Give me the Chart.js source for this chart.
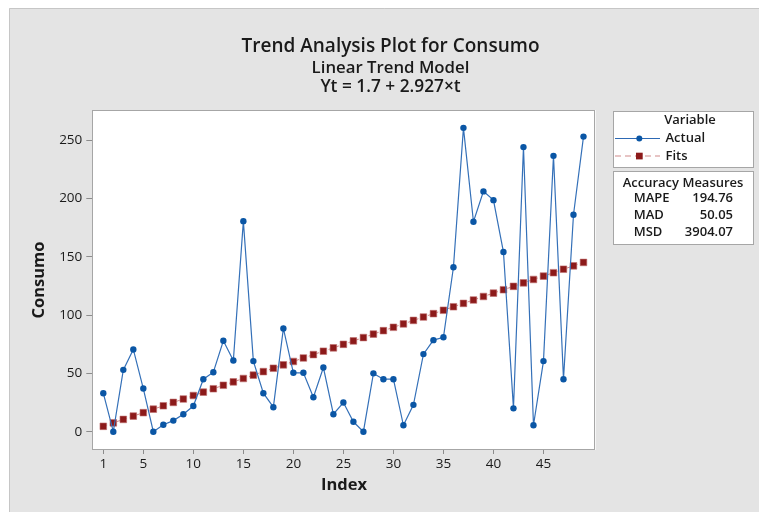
<!DOCTYPE html>
<html>
<head>
<meta charset="utf-8">
<script src="https://cdn.jsdelivr.net/npm/chart.js@4/dist/chart.umd.min.js"></script>
<style>
  html, body { margin: 0; padding: 0; background: #ffffff; }
  #wrap { position: absolute; left: 0; top: 0; width: 759px; height: 512px; }
</style>
</head>
<body>
<div id="wrap"><canvas id="c" width="759" height="512"></canvas></div>
<script>
// ---- data ----
const indexValues = [1,2,3,4,5,6,7,8,9,10,11,12,13,14,15,16,17,18,19,20,21,22,23,24,25,26,27,28,29,30,31,32,33,34,35,36,37,38,39,40,41,42,43,44,45,46,47,48,49];
const actualValues = [33,0,53,70.5,37,0,6,9.5,15,22,45,51,78,61,180.5,60.5,33,21,88.5,50.5,50.5,29.5,55,15,25,8.5,0,50,45,45,5.5,23,66.5,78.5,81,141,260.5,180,206,198.5,154,20,244,5.5,60.5,236.5,45,186,253];
const fitsValues = [4.6,7.6,10.5,13.4,16.3,19.3,22.2,25.1,28.0,31.0,33.9,36.8,39.8,42.7,45.6,48.5,51.5,54.4,57.3,60.2,63.2,66.1,69.0,71.9,74.9,77.8,80.7,83.7,86.6,89.5,92.4,95.4,98.3,101.2,104.1,107.1,110.0,112.9,115.9,118.8,121.7,124.6,127.6,130.5,133.4,136.3,139.3,142.2,145.1];
const xTickValues = [1,5,10,15,20,25,30,35,40,45];
const yTickValues = [0,50,100,150,200,250];
const titleLines = ["Trend Analysis Plot for Consumo", "Linear Trend Model", "Yt = 1.7 + 2.927\u00d7t"];
const seriesNames = ["Actual", "Fits"];
const accuracyLabels = ["MAPE", "MAD", "MSD"];
const accuracyValues = ["194.76", "50.05", "3904.07"];

const FONT = "'Open Sans', 'Noto Sans', sans-serif";
const TXT = '#1a1a1a';

const decor = {
  id: 'decor',
  beforeDraw(chart) {
    const ctx = chart.ctx;
    ctx.save();
    ctx.fillStyle = '#ffffff';
    ctx.fillRect(0, 0, 759, 512);
    ctx.fillStyle = '#e4e4e4';
    ctx.fillRect(9, 8, 750, 504);
    ctx.strokeStyle = '#c6c6c6';
    ctx.lineWidth = 1;
    ctx.beginPath();
    ctx.moveTo(9.5, 512); ctx.lineTo(9.5, 8.5); ctx.lineTo(759, 8.5);
    ctx.stroke();
    const a = chart.chartArea;
    ctx.fillStyle = '#ffffff';
    ctx.fillRect(a.left, a.top, a.right - a.left, a.bottom - a.top);
    ctx.restore();
  },
  beforeDatasetsDraw(chart) {
    const ctx = chart.ctx, a = chart.chartArea;
    ctx.save();
    ctx.strokeStyle = '#a6a6a6';
    ctx.lineWidth = 1;
    ctx.strokeRect(Math.round(a.left) + 0.5, Math.round(a.top) + 0.5, Math.round(a.right - a.left) - 1, Math.round(a.bottom - a.top) - 1);
    ctx.restore();
  },
  afterDraw(chart) {
    const ctx = chart.ctx;
    ctx.save();
    ctx.fillStyle = TXT;
    ctx.textAlign = 'center';
    ctx.textBaseline = 'alphabetic';
    ctx.font = "600 19px " + FONT;
    ctx.fillText(titleLines[0], 390.5, 51.7);
    ctx.font = "600 16.8px " + FONT;
    ctx.fillText(titleLines[1], 390.5, 73.3);
    ctx.font = "600 17.3px " + FONT;
    ctx.fillText(titleLines[2], 390.5, 91.7);

    // legend boxes
    ctx.fillStyle = '#ffffff';
    ctx.strokeStyle = '#a6a6a6';
    ctx.lineWidth = 1;
    ctx.fillRect(613.5, 111.5, 140, 56);
    ctx.strokeRect(613.5, 111.5, 140, 56);
    ctx.fillRect(613.5, 171.5, 140, 73);
    ctx.strokeRect(613.5, 171.5, 140, 73);

    ctx.fillStyle = TXT;
    ctx.font = "600 13px " + FONT;
    ctx.textAlign = 'center';
    ctx.fillText('Variable', 690, 124);
    ctx.textAlign = 'left';
    ctx.fillText(seriesNames[0], 665.5, 141.5);
    ctx.fillText(seriesNames[1], 665.5, 159.5);

    // actual sample
    ctx.strokeStyle = '#2d69b4';
    ctx.lineWidth = 1.2;
    ctx.beginPath(); ctx.moveTo(615, 138.5); ctx.lineTo(660, 138.5); ctx.stroke();
    ctx.fillStyle = '#0a56a5';
    ctx.beginPath(); ctx.arc(639.3, 138.5, 3, 0, Math.PI * 2); ctx.fill();
    // fits sample
    ctx.strokeStyle = '#d08a8a';
    ctx.lineWidth = 1.2;
    ctx.setLineDash([6, 4]);
    ctx.beginPath(); ctx.moveTo(615, 156); ctx.lineTo(660, 156); ctx.stroke();
    ctx.setLineDash([]);
    ctx.fillStyle = '#8c1a1a';
    ctx.fillRect(636, 152.7, 6.7, 6.7);

    // accuracy box
    ctx.fillStyle = TXT;
    ctx.font = "600 13px " + FONT;
    ctx.textAlign = 'left';
    ctx.fillText('Accuracy Measures', 622.7, 186.7);
    const ys = [202.3, 218.5, 235.7];
    for (let i = 0; i < accuracyLabels.length; i++) {
      ctx.textAlign = 'left';
      ctx.fillText(accuracyLabels[i], 633.7, ys[i]);
      ctx.textAlign = 'right';
      ctx.fillText(accuracyValues[i], 733, ys[i]);
    }
    ctx.restore();
  }
};

const points = (vals) => indexValues.map((t, i) => ({ x: t, y: vals[i] }));

new Chart(document.getElementById('c'), {
  type: 'line',
  data: {
    datasets: [
      {
        label: seriesNames[0],
        data: points(actualValues),
        borderColor: '#3470b8',
        borderWidth: 1.2,
        pointBackgroundColor: '#0a56a5',
        pointBorderColor: '#0a56a5',
        pointBorderWidth: 0,
        pointRadius: 3.2,
        pointStyle: 'circle',
        tension: 0,
        fill: false,
        order: 1
      },
      {
        label: seriesNames[1],
        data: points(fitsValues),
        borderColor: '#d08a8a',
        borderWidth: 1,
        borderDash: [4, 3],
        pointBackgroundColor: '#8c1a1a',
        pointBorderColor: '#c07070',
        pointBorderWidth: 0.6,
        pointRadius: 4.7,
        pointStyle: 'rect',
        tension: 0,
        fill: false,
        order: 2
      }
    ]
  },
  options: {
    responsive: false,
    animation: false,
    devicePixelRatio: 1,
    layout: { padding: { left: 25.4, right: 163.3, top: 110, bottom: 0 } },
    plugins: {
      legend: { display: false },
      title: { display: false },
      tooltip: { enabled: false }
    },
    scales: {
      x: {
        type: 'linear',
        min: -0.1,
        max: 50.22,
        afterBuildTicks(scale) { scale.ticks = xTickValues.map(v => ({ value: v })); },
        afterFit(scale) { scale.height = 62; },
        border: { display: false },
        grid: { drawOnChartArea: false, drawTicks: true, tickLength: 4, tickColor: '#8c8c8c' },
        ticks: { color: TXT, font: { family: FONT, size: 13.5 }, padding: 2, maxRotation: 0, autoSkip: false },
        title: { display: true, text: 'Index', color: TXT, font: { family: FONT, size: 16.5, weight: 'bold' }, padding: { top: 0, bottom: 17 } }
      },
      y: {
        type: 'linear',
        min: -15.7,
        max: 275.8,
        afterBuildTicks(scale) { scale.ticks = yTickValues.map(v => ({ value: v })); },
        afterFit(scale) { scale.width = 66.9; },
        border: { display: false },
        grid: { drawOnChartArea: false, drawTicks: true, tickLength: 6, tickColor: '#8c8c8c' },
        ticks: { color: TXT, font: { family: FONT, size: 13.5 }, padding: 4, autoSkip: false },
        title: { display: true, text: 'Consumo', color: TXT, font: { family: FONT, size: 16.5, weight: 'bold' }, padding: { top: 4, bottom: 0 } }
      }
    }
  },
  plugins: [decor]
});
</script>
</body>
</html>
